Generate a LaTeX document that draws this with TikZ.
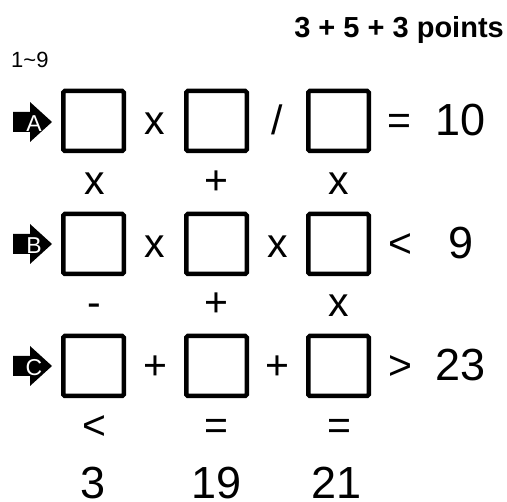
\documentclass[tikz,border=0pt]{standalone}
\usepackage{fontspec}
\setmainfont{Liberation Sans}
\begin{document}
\begin{tikzpicture}[x=1pt,y=-1pt,
  cell/.style={draw=black,line width=4.5pt,rounded corners=1.5pt,minimum width=60.5pt,minimum height=60pt,inner sep=0pt},
  big/.style={anchor=base,inner sep=0pt,font=\fontsize{45}{50}\selectfont},
  op/.style={anchor=base,inner sep=0pt,font=\fontsize{41}{44}\selectfont},
  lab/.style={inner sep=0pt,text=white,font=\fontsize{23}{25}\selectfont}]
\useasboundingbox (0,0) rectangle (507,502);
% title
\node[anchor=base east,inner sep=0pt,font=\bfseries\fontsize{29}{32}\selectfont] (title) at (504,38) {3 + 5 + 3 points};
\node[anchor=base west,inner sep=0pt,font=\fontsize{22}{24}\selectfont] (range) at (11,68) {1\char`~9};
% cells
\foreach \r/\y in {a/121,b/244,c/366}{
  \node[cell] (\r1) at (93.5,\y) {};
  \node[cell] (\r2) at (216.5,\y) {};
  \node[cell] (\r3) at (338.5,\y) {};
}
% arrows
\foreach \r/\y/\L in {A/122/A,B/244/B,C/366/C}{
  \fill[black] (13,\y-10) -- (30,\y-10) -- (30,\y-20) -- (52,\y) -- (30,\y+20) -- (30,\y+10) -- (13,\y+10) -- cycle;
  \node[lab] (lab\r) at (34,\y+2) {\L};
}
% row A
\node[op] (oa1) at (155,135) {x};
\node[op] (oa2) at (277.5,135) {/};
\node[op] (oa3) at (399,135) {=};
\node[big] (ra) at (461,136) {10};
% row B
\node[op] (ob1) at (155,258) {x};
\node[op] (ob2) at (278,258) {x};
\node[op] (ob3) at (400,258) {<};
\node[big] (rb) at (461,259) {9};
% row C
\node[op] (oc1) at (155,380) {+};
\node[op] (oc2) at (277.5,380) {+};
\node[op] (oc3) at (400,380) {>};
\node[big] (rc) at (461,381) {23};
% column operators
\node[op] (v11) at (95,195) {x};
\node[op] (v12) at (216,195) {+};
\node[op] (v13) at (339,195) {x};
\node[op] (v21) at (94,317) {-};
\node[op] (v22) at (216,317) {+};
\node[op] (v23) at (339,317) {x};
\node[op] (v31) at (94,440) {<};
\node[op] (v32) at (216,440) {=};
\node[op] (v33) at (339,440) {=};
% column results
\node[big] (c1) at (93,499) {3};
\node[big] (c2) at (217,499) {19};
\node[big] (c3) at (337,499) {21};
\end{tikzpicture}
\end{document}
